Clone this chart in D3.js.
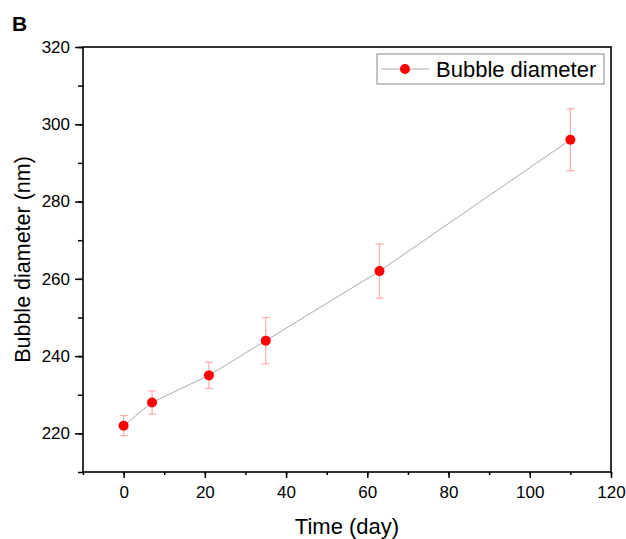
<!DOCTYPE html>
<html>
<head>
<meta charset="utf-8">
<script src="https://cdn.jsdelivr.net/npm/d3@7"></script>
<style>
  body { margin: 0; background: #fff; }
  text { font-family: "Liberation Sans", Arial, sans-serif; }
</style>
</head>
<body>
<div id="app"></div>
<script>
// data
var days = [0, 7, 21, 35, 63, 110];
var diameters = [222, 228, 235, 244, 262, 296];
var errors = [2.6, 3, 3.4, 6, 7, 8];
var xTicks = [0, 20, 40, 60, 80, 100, 120];
var yTicks = [220, 240, 260, 280, 300, 320];

var width = 626,
    height = 539;

var svg = d3.select("#app").append("svg")
    .attr("width", width)
    .attr("height", height);

var x = d3.scaleLinear().domain([-10, 120]).range([83, 611]);
var y = d3.scaleLinear().domain([210, 320]).range([472, 47]);

// frame
svg.append("rect")
    .attr("x", x(-10)).attr("y", y(320))
    .attr("width", x(120) - x(-10)).attr("height", y(210) - y(320))
    .style("fill", "none").style("stroke", "#000").style("stroke-width", 1.6);

// x axis
var xAxis = svg.append("g").attr("transform", "translate(0," + y(210) + ")");
xAxis.call(d3.axisBottom(x).tickValues(d3.range(-10, 121, 10)).tickSize(3).tickFormat(""))
    .call(function(g) { g.select(".domain").remove(); });
xAxis.append("g").call(d3.axisBottom(x).tickValues(xTicks).tickSize(6).tickPadding(8))
    .call(function(g) { g.select(".domain").remove(); });

// y axis
var yAxis = svg.append("g").attr("transform", "translate(" + x(-10) + ",0)");
yAxis.call(d3.axisLeft(y).tickValues(d3.range(210, 321, 10)).tickSize(5).tickFormat(""))
    .call(function(g) { g.select(".domain").remove(); });
yAxis.append("g").call(d3.axisLeft(y).tickValues(yTicks).tickSize(8).tickPadding(5))
    .call(function(g) { g.select(".domain").remove(); });

svg.selectAll(".tick line").style("stroke", "#000").style("stroke-width", 1.5);
svg.selectAll(".tick text")
    .style("font-size", "17px")
    .style("font-family", "Liberation Sans, Arial, sans-serif")
    .style("fill", "#000");

var pts = days.map(function(d, i) { return {x: d, y: diameters[i], e: errors[i]}; });

// connecting line
svg.append("path")
    .datum(pts)
    .attr("d", d3.line().x(function(d) { return x(d.x); }).y(function(d) { return y(d.y); }))
    .style("fill", "none").style("stroke", "#aaa").style("stroke-width", 1);

// error bars
var eb = svg.append("g").style("stroke", "#ffaaaa").style("stroke-width", 1.2);
pts.forEach(function(d) {
    var cx = x(d.x);
    eb.append("line").attr("x1", cx).attr("x2", cx).attr("y1", y(d.y - d.e)).attr("y2", y(d.y + d.e));
    eb.append("line").attr("x1", cx - 4).attr("x2", cx + 4).attr("y1", y(d.y - d.e)).attr("y2", y(d.y - d.e));
    eb.append("line").attr("x1", cx - 4).attr("x2", cx + 4).attr("y1", y(d.y + d.e)).attr("y2", y(d.y + d.e));
});

// points
svg.selectAll("circle.pt")
    .data(pts)
    .enter().append("circle")
    .attr("class", "pt")
    .attr("cx", function(d) { return x(d.x); })
    .attr("cy", function(d) { return y(d.y); })
    .attr("r", 5)
    .style("fill", "#ff0000");

// legend
var lg = svg.append("g");
lg.append("rect")
    .attr("x", 377).attr("y", 54).attr("width", 227).attr("height", 30)
    .style("fill", "#fff").style("stroke", "#888").style("stroke-width", 1);
lg.append("line").attr("x1", 381).attr("x2", 429).attr("y1", 69).attr("y2", 69)
    .style("stroke", "#aaa").style("stroke-width", 1);
lg.append("circle").attr("cx", 405).attr("cy", 69).attr("r", 5).style("fill", "#ff0000");
lg.append("text").attr("x", 436).attr("y", 77)
    .style("font-size", "22px").text("Bubble diameter");

// titles
svg.append("text")
    .attr("x", (x(-10) + x(120)) / 2).attr("y", 534)
    .attr("text-anchor", "middle")
    .style("font-size", "22px")
    .text("Time (day)");

svg.append("text")
    .attr("transform", "translate(30," + (y(265)) + ") rotate(-90)")
    .attr("text-anchor", "middle")
    .style("font-size", "21.5px")
    .text("Bubble diameter (nm)");

svg.append("text")
    .attr("x", 12).attr("y", 31)
    .style("font-size", "21px").style("font-weight", "bold")
    .text("B");
</script>
</body>
</html>
